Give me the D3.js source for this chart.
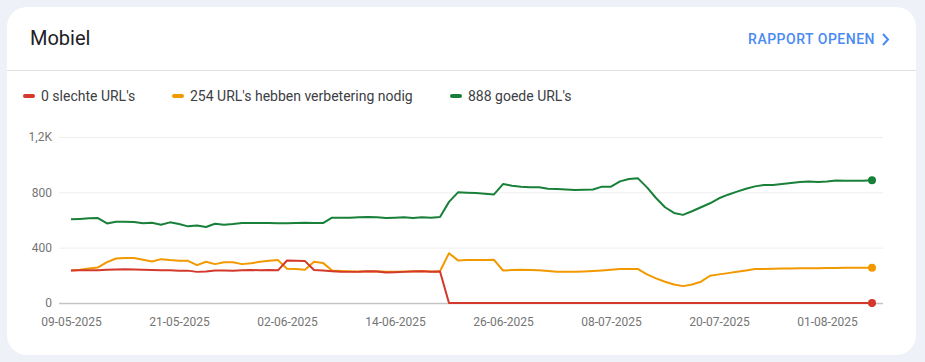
<!DOCTYPE html>
<html lang="nl">
<head>
<meta charset="UTF-8">
<title>Mobiel</title>
<style>
  html, body {
    margin: 0;
    background: #eef2f8;
    overflow: hidden;
  }
  svg text {
    font-family: Roboto, "Noto Sans", sans-serif;
  }
</style>
</head>
<body>
<div id="chart"></div>
<script src="https://cdnjs.cloudflare.com/ajax/libs/d3/7.8.5/d3.min.js"></script>
<script>
// data, one value per day from 09-05-2025 to 06-08-2025
const startDate = "09-05-2025";
const endDate = "06-08-2025";

const poor = [235, 236, 237, 236, 240, 243, 244, 242, 240, 238,
  237, 236, 234, 234, 225, 228, 235, 235, 234, 236,
  238, 237, 238, 236, 307, 305, 303, 238, 235, 230,
  226, 225, 226, 229, 227, 220, 222, 225, 228, 230,
  226, 228, 0, 0, 0, 0, 0, 0, 0, 0,
  0, 0, 0, 0, 0, 0, 0, 0, 0, 0,
  0, 0, 0, 0, 0, 0, 0, 0, 0, 0,
  0, 0, 0, 0, 0, 0, 0, 0, 0, 0,
  0, 0, 0, 0, 0, 0, 0, 0, 0, 0];

const needsWork = [235, 240, 250, 257, 295, 322, 325, 325, 312, 300,
  317, 310, 305, 305, 274, 298, 281, 295, 295, 281,
  288, 298, 305, 310, 247, 245, 240, 298, 290, 235,
  232, 230, 228, 228, 229, 226, 226, 228, 230, 231,
  228, 230, 360, 308, 310, 310, 310, 312, 235, 238,
  240, 238, 236, 231, 226, 226, 226, 228, 231, 235,
  240, 245, 245, 245, 207, 178, 154, 134, 122, 134,
  154, 197, 207, 216, 226, 235, 245, 245, 247, 250,
  250, 252, 252, 252, 253, 253, 254, 254, 254, 254];

const good = [605, 608, 612, 614, 575, 587, 587, 585, 576, 580,
  566, 583, 571, 554, 561, 549, 573, 566, 571, 578,
  578, 578, 578, 576, 576, 578, 580, 578, 578, 617,
  617, 617, 620, 622, 620, 615, 617, 620, 615, 620,
  617, 622, 731, 800, 797, 795, 790, 785, 860, 848,
  841, 836, 836, 826, 824, 821, 817, 819, 821, 841,
  841, 879, 896, 901, 836, 759, 692, 651, 637, 663,
  692, 721, 757, 783, 805, 826, 843, 853, 853, 860,
  867, 874, 879, 874, 879, 886, 884, 884, 884, 888];

const xTickLabels = ["09-05-2025", "21-05-2025", "02-06-2025", "14-06-2025",
  "26-06-2025", "08-07-2025", "20-07-2025", "01-08-2025"];
const yTicks = [0, 400, 800, 1200];

const legendItems = [
  { label: "0 slechte URL's", color: "#d3382b" },
  { label: "254 URL's hebben verbetering nodig", color: "#f29900" },
  { label: "888 goede URL's", color: "#188038" }
];

const width = 925, height = 362;
const parse = d3.timeParse("%d-%m-%Y");
const fmt = d3.timeFormat("%d-%m-%Y");

const days = d3.timeDay.range(parse(startDate), d3.timeDay.offset(parse(endDate), 1));

const svg = d3.select("#chart").append("svg")
  .attr("width", width)
  .attr("height", height);

// card
svg.append("rect")
  .attr("x", 7).attr("y", 7)
  .attr("width", 909).attr("height", 348)
  .attr("rx", 20)
  .attr("fill", "#fff");

svg.append("text")
  .attr("x", 30).attr("y", 45)
  .attr("font-size", 20)
  .attr("fill", "#202124")
  .text("Mobiel");

svg.append("text")
  .attr("x", 875).attr("y", 44)
  .attr("text-anchor", "end")
  .attr("font-size", 14)
  .attr("font-weight", 500)
  .attr("letter-spacing", "0.5px")
  .attr("fill", "#4a8af4")
  .text("RAPPORT OPENEN");

svg.append("path")
  .attr("d", "M883,34 L888,39.5 L883,45")
  .attr("fill", "none")
  .attr("stroke", "#4a8af4")
  .attr("stroke-width", 2);

svg.append("line")
  .attr("x1", 7).attr("x2", 916)
  .attr("y1", 70.5).attr("y2", 70.5)
  .attr("stroke", "#e0e0e0");

// legend
const legendX = [24, 173, 451];
const legend = svg.selectAll(".legend")
  .data(legendItems)
  .enter().append("g")
  .attr("class", "legend")
  .attr("transform", (d, i) => `translate(${legendX[i]},96)`);

legend.append("rect")
  .attr("x", -1).attr("y", -2)
  .attr("width", 12).attr("height", 4)
  .attr("rx", 2)
  .attr("fill", d => d.color);

legend.append("text")
  .attr("x", 17).attr("y", 5)
  .attr("font-size", 14)
  .attr("fill", "#3c4043")
  .text(d => d.label);

// scales
const x = d3.scaleTime()
  .domain([parse(startDate), parse(endDate)])
  .range([71, 872]);

const y = d3.scaleLinear()
  .domain([0, 1200])
  .range([303, 137]);

const gridLeft = 59, gridRight = 883;

// y axis + grid
const yAxis = svg.append("g")
  .attr("transform", `translate(${gridLeft},0)`)
  .call(d3.axisLeft(y)
    .tickValues(yTicks)
    .tickSize(-(gridRight - gridLeft))
    .tickPadding(7)
    .tickFormat(d => d >= 1000 ? d3.format(".1f")(d / 1000).replace(".", ",") + "K" : d));

yAxis.select(".domain").remove();
yAxis.selectAll(".tick line")
  .attr("stroke", d => d === 0 ? "#c4c4c4" : "#eeeeee")
  .attr("stroke-width", d => d === 0 ? 1.5 : 1);
yAxis.selectAll(".tick text")
  .attr("font-size", 12)
  .attr("font-family", "Roboto, sans-serif")
  .attr("fill", "#757575");

// x axis
const xAxis = svg.append("g")
  .attr("transform", "translate(0,303)")
  .call(d3.axisBottom(x)
    .tickValues(xTickLabels.map(parse))
    .tickSize(0)
    .tickPadding(14)
    .tickFormat(fmt));

xAxis.select(".domain").remove();
xAxis.selectAll(".tick text")
  .attr("font-size", 12)
  .attr("font-family", "Roboto, sans-serif")
  .attr("fill", "#757575");

// lines
const series = [
  { values: good, color: "#188038" },
  { values: needsWork, color: "#f29900" },
  { values: poor, color: "#d3382b" }
];

const line = d3.line()
  .x((d, i) => x(days[i]))
  .y(d => y(d));

svg.selectAll(".series")
  .data(series)
  .enter().append("path")
  .attr("class", "series")
  .attr("d", d => line(d.values))
  .attr("fill", "none")
  .attr("stroke", d => d.color)
  .attr("stroke-width", 2)
  .attr("stroke-linejoin", "round");

svg.selectAll(".end-dot")
  .data(series)
  .enter().append("circle")
  .attr("class", "end-dot")
  .attr("cx", d => x(days[d.values.length - 1]))
  .attr("cy", d => y(d.values[d.values.length - 1]))
  .attr("r", 4)
  .attr("fill", d => d.color);
</script>
</body>
</html>
